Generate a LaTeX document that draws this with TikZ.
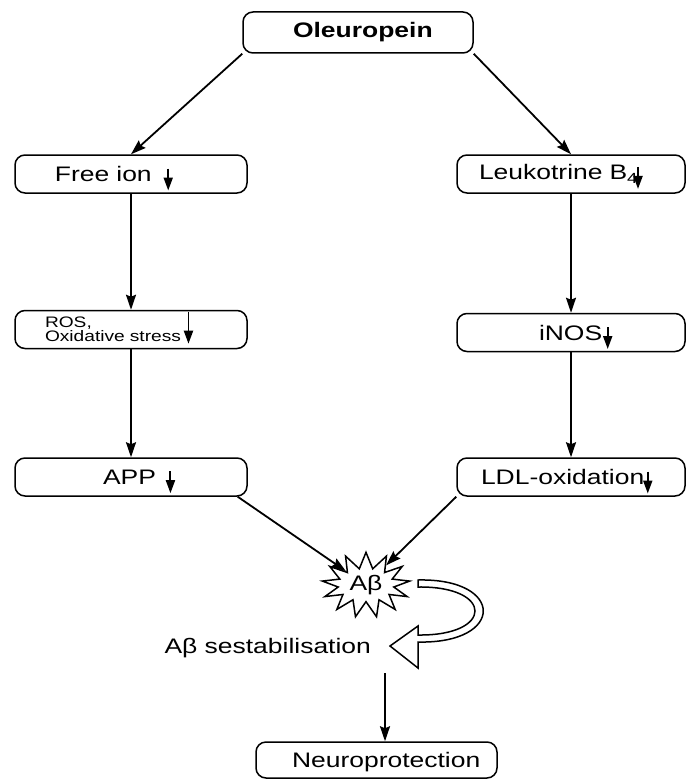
\documentclass[tikz,border=0pt]{standalone}
\usepackage{fontspec}
\setmainfont{Liberation Sans}[FakeStretch=1.26]
\usetikzlibrary{arrows.meta, positioning, shapes.symbols}

% small down arrow after a label
\newcommand{\downmark}[2]{\smash{\tikz[baseline=0pt]\draw[line width=0.95pt,-{Triangle[length=6.5pt,width=4.5pt]}] (0,#1) -- (0,#2);}}

\begin{document}
\begin{tikzpicture}[
    x=0.5pt, y=-0.5pt,
    >=Stealth,
    every node/.style={font=\fontsize{10.5pt}{12pt}\selectfont}
]
    % Define styles
    \tikzstyle{box} = [rectangle, rounded corners=5pt, draw, line width=0.75pt, text width=116pt, inner xsep=0pt, inner ysep=0pt, minimum height=19pt, align=left]
    \tikzstyle{rbox} = [box, text width=114pt]
    \tikzstyle{burst} = [starburst, draw, line width=0.75pt, starburst points=13, starburst point height=8pt, random starburst=0, minimum width=44pt, minimum height=27.5pt, inner sep=1pt]
    \tikzstyle{arrow} = [line width=0.9pt, -{Stealth[length=7.5pt,width=5pt,inset=1pt]}]

    \useasboundingbox (0,0) rectangle (687,781);

    % Top
    \node [box, text width=115pt, minimum height=20.5pt] (olea) at (358,32.5) {\hspace*{25pt}\textbf{Oleuropein}};

    % Left column
    \node [box] (freeion) at (131,174) {\hspace*{20pt}Free ion\hspace{6pt}\downmark{6.5pt}{-4.5pt}};
    \node [box, below=58pt of freeion, font=\fontsize{7.6pt}{7pt}\selectfont] (ros) {\hspace*{15pt}ROS,\\\hspace*{15pt}Oxidative stress\hspace{1.5pt}\downmark{15pt}{-1pt}};
    \node [box, below=54pt of ros] (app) {\hspace*{44pt}APP\hspace{5pt}\downmark{6.5pt}{-4.5pt}};

    % Right column
    \node [rbox] (leuko) at (571,174) {\hspace*{11pt}Leukotrine B\textsubscript{4}\kern-2.5pt\downmark{6.5pt}{-4.5pt}};
    \node [rbox, below=59.5pt of leuko] (inos) {\hspace*{41pt}iNOS\hspace{0.5pt}\downmark{6.5pt}{-4.5pt}};
    \node [rbox, below=52.5pt of inos] (ldl) {\hspace*{12pt}LDL-oxidation\kern-0.5pt\downmark{6.5pt}{-4.5pt}};

    % A-beta and result
    \node [burst] (abeta) at (366,585) {Aβ};
    \node [anchor=base east] (sest) at (378,653) {Aβ sestabilisation};
    \coordinate (stab) at (385,673);
    \node [box, text width=120.5pt, minimum height=18pt, text depth=0pt] (neuro) at (376.5,760) {\hspace*{18pt}Neuroprotection};

    % Arrows from the top
    \draw [arrow] (olea.south west) -- (freeion.north);
    \draw [arrow] (olea.south east) -- (leuko.north);

    % Arrows down the columns
    \draw [arrow] (freeion.south) -- (ros.north);
    \draw [arrow] (ros.south) -- (app.north);
    \draw [arrow] (leuko.south) -- (inos.north);
    \draw [arrow] (inos.south) -- (ldl.north);

    % Arrows to A-beta
    \draw [arrow] ([xshift=-5pt]app.south east) -- (abeta);
    \draw [arrow] (ldl.south west) -- (abeta);

    % Hollow bent arrow
    \draw [line width=0.75pt, fill=white] (418,580) .. controls (505,578) and (505,644) .. (418,642) -- (418,668) -- (390,646) -- (418,626) -- (418,635) .. controls (494,636) and (494,586) .. (418,587) -- cycle;

    % Arrow to result
    \draw [arrow] (stab) -- (stab |- neuro.north);

\end{tikzpicture}
\end{document}
